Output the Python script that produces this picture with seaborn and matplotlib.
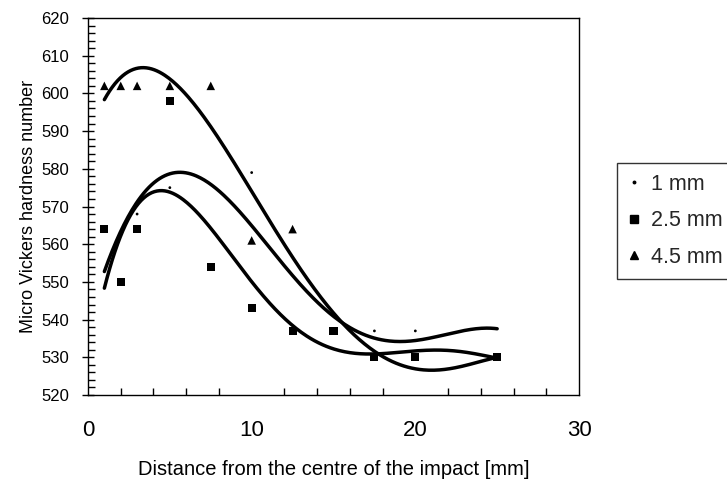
import numpy as np
import pandas as pd
import matplotlib
matplotlib.use("Agg")
import matplotlib.pyplot as plt
import seaborn as sns
from matplotlib.ticker import MultipleLocator
from matplotlib.lines import Line2D

# ---- measured data points (visible markers) ----
x_1mm = [3, 5, 10, 17.5, 20]
y_1mm = [568, 575, 579, 537, 537]

x_25mm = [1, 2, 3, 5, 7.5, 10, 12.5, 15, 17.5, 20, 25]
y_25mm = [564, 550, 564, 598, 554, 543, 537, 537, 530, 530, 530]

x_45mm = [1, 2, 3, 5, 7.5, 10, 12.5]
y_45mm = [602, 602, 602, 602, 602, 561, 564]

# ---- polynomial trendline readings ----
trend_x_1mm = [1, 2, 3, 4, 5.4, 7.5, 10, 12.5, 15, 17.5, 20, 22.5, 25]
trend_y_1mm = [553, 563, 571, 576.5, 579.2, 576, 564.5, 551.5, 541.5, 535, 534, 537, 537.5]

trend_x_25mm = [1, 2, 3, 4.2, 5, 7.5, 10, 12.5, 15, 17.5, 20, 22.5, 25]
trend_y_25mm = [549, 561, 570, 575.2, 574.3, 563.5, 549.8, 538.6, 532.7, 530.7, 531.3, 532, 529.7]

trend_x_45mm = [1, 2, 3.5, 5, 7.5, 10, 12.5, 15, 17.5, 20, 22.5, 25]
trend_y_45mm = [598.5, 604, 606.5, 604.5, 591, 573.5, 557, 542, 531, 527.3, 527.2, 530]

labels = ["1 mm", "2.5 mm", "4.5 mm"]

sns.set_theme(style="white")
plt.rcParams["font.family"] = ["Liberation Sans", "DejaVu Sans"]

fig = plt.figure(figsize=(7.27, 4.86), dpi=100)
ax = fig.add_axes([88 / 727, 1 - 395 / 486, (579 - 88) / 727, (395 - 18) / 486])

# trendlines (polynomial fits of the read trend points)
for tx, ty in [(trend_x_1mm, trend_y_1mm), (trend_x_25mm, trend_y_25mm), (trend_x_45mm, trend_y_45mm)]:
    coef = np.polyfit(tx, ty, 6)
    xs = np.linspace(min(tx), max(tx), 300)
    df_t = pd.DataFrame({"x": xs, "y": np.polyval(coef, xs)})
    sns.lineplot(data=df_t, x="x", y="y", ax=ax, color="black", linewidth=2.5, legend=False)

# markers
sns.scatterplot(x=x_1mm, y=y_1mm, ax=ax, marker="o", s=4, color="black", edgecolor="none", zorder=3)
sns.scatterplot(x=x_25mm, y=y_25mm, ax=ax, marker="s", s=34, color="black", edgecolor="none", zorder=3)
sns.scatterplot(x=x_45mm, y=y_45mm, ax=ax, marker="^", s=38, color="black", edgecolor="none", zorder=3)

ax.set_xlim(0, 30)
ax.set_ylim(520, 620)
ax.xaxis.set_major_locator(MultipleLocator(10))
ax.xaxis.set_minor_locator(MultipleLocator(2))
ax.yaxis.set_major_locator(MultipleLocator(10))
ax.yaxis.set_minor_locator(MultipleLocator(2))

ax.tick_params(axis="x", which="major", direction="inout", length=14, width=1, color="black",
               labelsize=16, pad=11, labelcolor="black")
ax.tick_params(axis="x", which="minor", direction="in", length=5, width=1, color="black", bottom=True)
ax.tick_params(axis="y", which="major", direction="inout", length=9, width=1, color="black",
               labelsize=12, pad=9, labelcolor="black", left=True)
ax.tick_params(axis="y", which="minor", direction="in", length=5, width=1, color="black", left=True)

for sp in ax.spines.values():
    sp.set_visible(True)
    sp.set_color("black")
    sp.set_linewidth(1.0)

ax.set_xlabel("Distance from the centre of the impact [mm]", fontsize=14.5, color="black", labelpad=14)
ax.set_ylabel("Micro Vickers hardness number", fontsize=13, color="black", labelpad=3)

handles = [
    Line2D([], [], linestyle="none", marker="o", markersize=1.8, color="black"),
    Line2D([], [], linestyle="none", marker="s", markersize=6, color="black"),
    Line2D([], [], linestyle="none", marker="^", markersize=6, color="black"),
]
leg = fig.legend(handles, labels, loc="upper left", bbox_to_anchor=(617 / 727, 1 - 163 / 486),
                 frameon=True, fancybox=False, shadow=False, fontsize=15.5,
                 handlelength=0.6, handletextpad=0.5, labelspacing=0.72,
                 borderpad=0.5, borderaxespad=0)
leg.get_frame().set_edgecolor("black")
leg.get_frame().set_linewidth(1.0)

fig.savefig("out.png", dpi=100)
